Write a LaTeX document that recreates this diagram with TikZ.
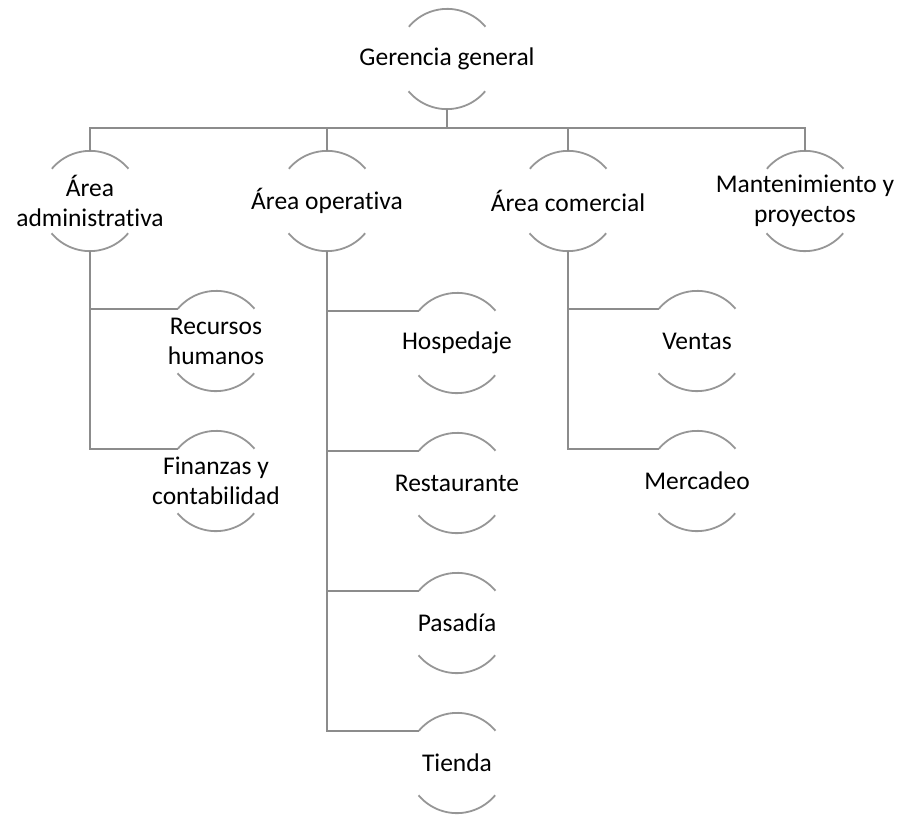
\documentclass[tikz,border=0pt]{standalone}
\usepackage{fontspec}
\setmainfont{Carlito}[Ligatures=NoCommon]
\definecolor{linegray}{RGB}{140,140,140}
\definecolor{arcgray}{RGB}{150,150,150}
\begin{document}
\begin{tikzpicture}[x=1pt,y=1pt,
  hub/.style={circle,minimum size=100pt,inner sep=0pt,draw=none},
  lbl/.style={align=center,font=\fontsize{25.5}{30}\selectfont,inner sep=0pt},
  conn/.style={draw=linegray,line width=2pt},
  halfarc/.style={draw=arcgray,line width=1.8pt}]
\useasboundingbox (0,0) rectangle (902,-814);
% hubs
\node[hub] (g)  at (447,-59) {};
\node[hub] (a)  at (90,-201) {};
\node[hub] (o)  at (327,-201) {};
\node[hub] (c)  at (568,-201) {};
\node[hub] (m)  at (805,-201) {};
\node[hub] (rh) at (216,-341) {};
\node[hub] (fc) at (216,-481) {};
\node[hub] (ho) at (457,-343) {};
\node[hub] (re) at (457,-483) {};
\node[hub] (pa) at (457,-623) {};
\node[hub] (ti) at (457,-763) {};
\node[hub] (ve) at (697,-341) {};
\node[hub] (me) at (697,-481) {};
% labels
\node[lbl] (g-t)  at (g)  {Gerencia general};
\node[lbl] (a-t)  at (a)  {Área\\administrativa};
\node[lbl] (o-t)  at (o)  {Área operativa};
\node[lbl] (c-t)  at (c)  {Área comercial};
\node[lbl] (m-t)  at (m)  {Mantenimiento y\\proyectos};
\node[lbl] (rh-t) at (rh) {Recursos\\humanos};
\node[lbl] (fc-t) at (fc) {Finanzas y\\contabilidad};
\node[lbl] (ho-t) at (ho) {Hospedaje};
\node[lbl] (re-t) at (re) {Restaurante};
\node[lbl] (pa-t) at (pa) {Pasadía};
\node[lbl] (ti-t) at (ti) {Tienda};
\node[lbl] (ve-t) at (ve) {Ventas};
\node[lbl] (me-t) at (me) {Mercadeo};
% arcs
\foreach \n in {g,a,o,c,m,rh,fc,ho,re,pa,ti,ve,me}{
  \draw[halfarc] (\n.40) arc[start angle=40,end angle=140,radius=50pt];
  \draw[halfarc] (\n.220) arc[start angle=220,end angle=320,radius=50pt];
}
% connectors
\coordinate (bus) at (447,-128);
\draw[conn] (g.south) -- (bus);
\draw[conn] (a.north) -- (a.north |- bus) -- (m.north |- bus) -- (m.north);
\draw[conn] (o.north) -- (o.north |- bus);
\draw[conn] (c.north) -- (c.north |- bus);
\draw[conn] (a.south) |- (rh.140);
\draw[conn] (a.south) |- (fc.140);
\draw[conn] (o.south) |- (ho.140);
\draw[conn] (o.south) |- (re.140);
\draw[conn] (o.south) |- (pa.140);
\draw[conn] (o.south) |- (ti.140);
\draw[conn] (c.south) |- (ve.140);
\draw[conn] (c.south) |- (me.140);
\end{tikzpicture}
\end{document}
